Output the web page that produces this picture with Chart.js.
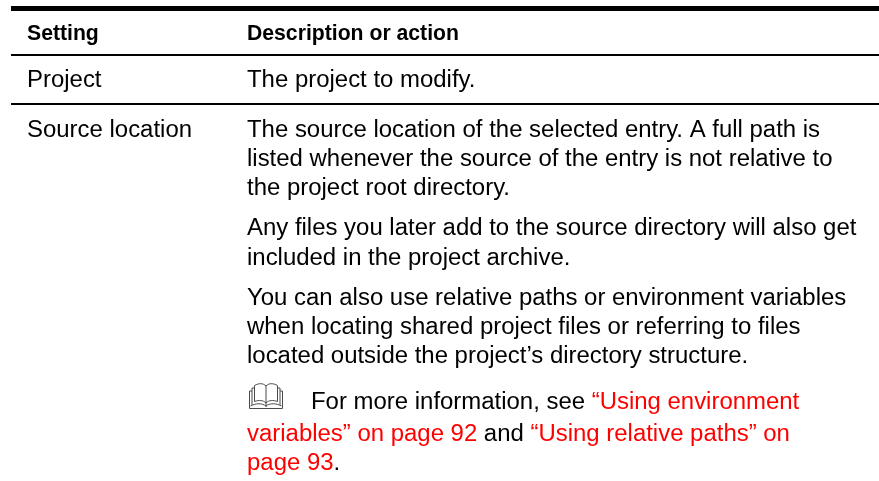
<!DOCTYPE html>
<html>
<head>
<meta charset="utf-8">
<title>Setting table</title>
<style>
  html, body { margin: 0; padding: 0; background: #fff; overflow: hidden; }
  canvas { display: block; }
</style>
<script src="https://cdn.jsdelivr.net/npm/chart.js@4/dist/chart.umd.min.js"></script>
</head>
<body>
<canvas id="tableChart" width="879" height="481"></canvas>
<script>
const headers = ['Setting', 'Description or action'];
const settingNames = ['Project', 'Source location'];
const black = '#000000';
const red = '#ff0000';

// each line is a list of [text, color] runs
const descriptionLines = [
    [['The project to modify.', black]],
    [['The source location of the selected entry. A full path is', black]],
    [['listed whenever the source of the entry is not relative to', black]],
    [['the project root directory.', black]],
    [['Any files you later add to the source directory will also get', black]],
    [['included in the project archive.', black]],
    [['You can also use relative paths or environment variables', black]],
    [['when locating shared project files or referring to files', black]],
    [['located outside the project\u2019s directory structure.', black]],
    [['For more information, see ', black], ['\u201CUsing environment', red]],
    [['variables\u201D on page 92', red], [' and ', black], ['\u201CUsing relative paths\u201D on', red]],
    [['page 93', red], ['.', black]]
];

// baselines in the axis units
const headerBaseline = 40;
const settingBaselines = [87, 137];
const descriptionBaselines = [87, 137, 166, 195, 235, 265, 305, 334, 363, 409, 441, 470];
const descriptionIndents = [247, 247, 247, 247, 247, 247, 247, 247, 247, 311, 247, 247];
const settingX = 27;
const ruleRows = [8.5, 55, 104];
const ruleWidths = [5, 2, 2];
const ruleStart = 11;
const ruleEnd = 879;

const textSize = 23.95;
const headerSize = 21.2;
const fontFamily = '"Liberation Sans", Arial, sans-serif';

// book icon, drawn relative to its top left corner
function drawBook(ctx, x, y) {
    ctx.save();
    ctx.translate(x, y);
    ctx.strokeStyle = '#4a4a4a';
    ctx.lineWidth = 1;
    ctx.beginPath();
    // back cover and stepped page edges
    ctx.moveTo(0.5, 8); ctx.lineTo(0.5, 25.5); ctx.lineTo(33.5, 25.5); ctx.lineTo(33.5, 8);
    ctx.moveTo(0.5, 8); ctx.lineTo(3, 8); ctx.moveTo(33.5, 8); ctx.lineTo(31, 8);
    ctx.moveTo(3, 5); ctx.lineTo(3, 22); ctx.moveTo(31, 5); ctx.lineTo(31, 22);
    ctx.moveTo(3, 5); ctx.lineTo(5.5, 5); ctx.moveTo(31, 5); ctx.lineTo(28.5, 5);
    // left page
    ctx.moveTo(17, 20); ctx.bezierCurveTo(14, 17, 10, 17, 5.5, 18.5);
    ctx.lineTo(5.5, 2.5); ctx.bezierCurveTo(10, 0, 14, 0, 17, 3);
    ctx.moveTo(17, 23); ctx.bezierCurveTo(13, 20, 7, 20, 1.5, 23);
    // right page
    ctx.moveTo(17, 20); ctx.bezierCurveTo(20, 17, 24, 17, 28.5, 18.5);
    ctx.lineTo(28.5, 2.5); ctx.bezierCurveTo(24, 0, 20, 0, 17, 3);
    ctx.moveTo(17, 23); ctx.bezierCurveTo(21, 20, 27, 20, 32.5, 23);
    // spine
    ctx.moveTo(17, 3); ctx.lineTo(17, 24);
    ctx.stroke();
    ctx.restore();
}

const tableText = {
    id: 'tableText',
    afterDatasetsDraw(chart) {
        const { ctx, scales: { x, y } } = chart;
        ctx.save();
        ctx.textBaseline = 'alphabetic';
        ctx.textAlign = 'left';

        ctx.font = `bold ${headerSize}px ${fontFamily}`;
        ctx.fillStyle = black;
        ctx.fillText(headers[0], x.getPixelForValue(settingX), y.getPixelForValue(headerBaseline));
        ctx.fillText(headers[1], x.getPixelForValue(descriptionIndents[0]), y.getPixelForValue(headerBaseline));

        ctx.font = `${textSize}px ${fontFamily}`;
        settingNames.forEach((name, i) => {
            ctx.fillText(name, x.getPixelForValue(settingX), y.getPixelForValue(settingBaselines[i]));
        });

        descriptionLines.forEach((runs, i) => {
            let px = x.getPixelForValue(descriptionIndents[i]);
            const py = y.getPixelForValue(descriptionBaselines[i]);
            runs.forEach(([text, color]) => {
                ctx.fillStyle = color;
                ctx.fillText(text, px, py);
                px += ctx.measureText(text).width;
            });
        });
        ctx.restore();

        drawBook(ctx, x.getPixelForValue(249), y.getPixelForValue(383));
    }
};

new Chart(document.getElementById('tableChart'), {
    type: 'scatter',
    data: {
        datasets: ruleRows.map((row, i) => ({
            data: [{ x: ruleStart, y: row }, { x: ruleEnd, y: row }],
            showLine: true,
            borderColor: black,
            borderWidth: ruleWidths[i],
            pointRadius: 0
        }))
    },
    options: {
        responsive: false,
        animation: false,
        layout: { padding: 0 },
        plugins: { legend: { display: false }, tooltip: { enabled: false } },
        scales: {
            x: { type: 'linear', min: 0, max: 879, display: false },
            y: { type: 'linear', min: 0, max: 481, reverse: true, display: false }
        }
    },
    plugins: [tableText]
});
</script>
</body>
</html>
